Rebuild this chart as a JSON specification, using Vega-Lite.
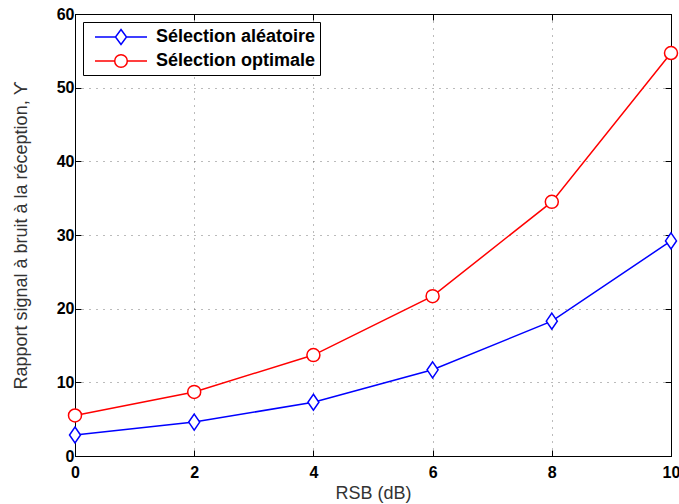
{
  "$schema": "https://vega.github.io/schema/vega-lite/v6.json",
  "width": 596,
  "height": 442,
  "autosize": "none",
  "padding": {"left": 75, "top": 14, "right": 8, "bottom": 48},
  "background": "white",
  "config": {
    "view": {"stroke": "black", "strokeWidth": 1},
    "font": "Liberation Sans",
    "axis": {
      "domainColor": "black",
      "tickColor": "black",
      "labelColor": "black",
      "labelFont": "Liberation Sans",
      "labelFontWeight": "bold",
      "labelFontSize": 16,
      "titleFont": "Liberation Sans",
      "titleFontWeight": "normal",
      "titleFontSize": 18,
      "titleColor": "#333333",
      "gridColor": "#555555",
      "gridDash": [1, 6],
      "gridWidth": 1,
      "gridOpacity": 0.8,
      "tickSize": -6
    }
  },
  "data": {
    "values": [
      {"rsb": 0, "snr": 2.85, "serie": "Sélection aléatoire"},
      {"rsb": 2, "snr": 4.6, "serie": "Sélection aléatoire"},
      {"rsb": 4, "snr": 7.3, "serie": "Sélection aléatoire"},
      {"rsb": 6, "snr": 11.7, "serie": "Sélection aléatoire"},
      {"rsb": 8, "snr": 18.3, "serie": "Sélection aléatoire"},
      {"rsb": 10, "snr": 29.2, "serie": "Sélection aléatoire"},
      {"rsb": 0, "snr": 5.5, "serie": "Sélection optimale"},
      {"rsb": 2, "snr": 8.7, "serie": "Sélection optimale"},
      {"rsb": 4, "snr": 13.7, "serie": "Sélection optimale"},
      {"rsb": 6, "snr": 21.7, "serie": "Sélection optimale"},
      {"rsb": 8, "snr": 34.5, "serie": "Sélection optimale"},
      {"rsb": 10, "snr": 54.7, "serie": "Sélection optimale"}
    ]
  },
  "layer": [
    {
      "mark": {"type": "line", "strokeWidth": 1.5},
      "encoding": {
        "x": {
          "field": "rsb", "type": "quantitative",
          "scale": {"domain": [0, 10], "nice": false},
          "axis": {"values": [0, 2, 4, 6, 8, 10], "title": "RSB (dB)", "labelPadding": 14, "titlePadding": 4, "grid": true, "labelFlush": false}
        },
        "y": {
          "field": "snr", "type": "quantitative",
          "scale": {"domain": [0, 60], "nice": false},
          "axis": {"values": [0, 10, 20, 30, 40, 50, 60], "title": "Rapport signal à bruit à la réception, ϒ", "labelPadding": 7, "titlePadding": 26, "grid": true}
        },
        "color": {
          "field": "serie", "type": "nominal",
          "scale": {"domain": ["Sélection aléatoire", "Sélection optimale"], "range": ["#0000ff", "#ff0000"]},
          "legend": {
            "title": null,
            "orient": "top-left",
            "offset": 8,
            "padding": 4,
            "fillColor": "white",
            "strokeColor": "black",
            "labelFont": "Liberation Sans",
            "labelFontWeight": "bold",
            "labelFontSize": 18,
            "labelColor": "black",
            "labelOffset": 47,
            "symbolSize": 400,
            "symbolStrokeWidth": 1.5,
            "symbolFillColor": "white",
            "rowPadding": 2,
            "encode": {
              "symbols": {
                "update": {
                  "shape": {"signal": "datum.value === 'Sélection aléatoire' ? 'M-0.3,0H1.75M2.85,0H4.9M2.3,-0.75L2.85,0L2.3,0.75L1.75,0Z' : 'M-0.3,0H1.67M2.93,0H4.9M2.93,0A0.63,0.63,0,1,1,1.67,0A0.63,0.63,0,1,1,2.93,0Z'"},
                  "fill": {"value": "white"},
                  "strokeWidth": {"value": 1.5}
                }
              }
            }
          }
        }
      }
    },
    {
      "transform": [{"filter": "datum.serie === 'Sélection aléatoire'"}],
      "mark": {"type": "point", "shape": "M0,-0.8L0.55,0L0,0.8L-0.55,0Z", "filled": false, "fill": "white", "fillOpacity": 1, "opacity": 1, "strokeWidth": 1.5, "size": 400},
      "encoding": {
        "x": {
          "field": "rsb", "type": "quantitative",
          "axis": {"orient": "top", "values": [0, 2, 4, 6, 8, 10], "labels": false, "title": null, "grid": false}
        },
        "y": {
          "field": "snr", "type": "quantitative",
          "axis": {"orient": "right", "values": [0, 10, 20, 30, 40, 50, 60], "labels": false, "title": null, "grid": false}
        },
        "color": {"field": "serie", "type": "nominal"}
      }
    },
    {
      "transform": [{"filter": "datum.serie === 'Sélection optimale'"}],
      "mark": {"type": "point", "shape": "M0.65,0A0.65,0.65,0,1,1,-0.65,0A0.65,0.65,0,1,1,0.65,0Z", "filled": false, "fill": "white", "fillOpacity": 1, "opacity": 1, "strokeWidth": 1.5, "size": 400},
      "encoding": {
        "x": {"field": "rsb", "type": "quantitative", "axis": null},
        "y": {"field": "snr", "type": "quantitative", "axis": null},
        "color": {"field": "serie", "type": "nominal"}
      }
    }
  ],
  "resolve": {"axis": {"x": "independent", "y": "independent"}}
}
